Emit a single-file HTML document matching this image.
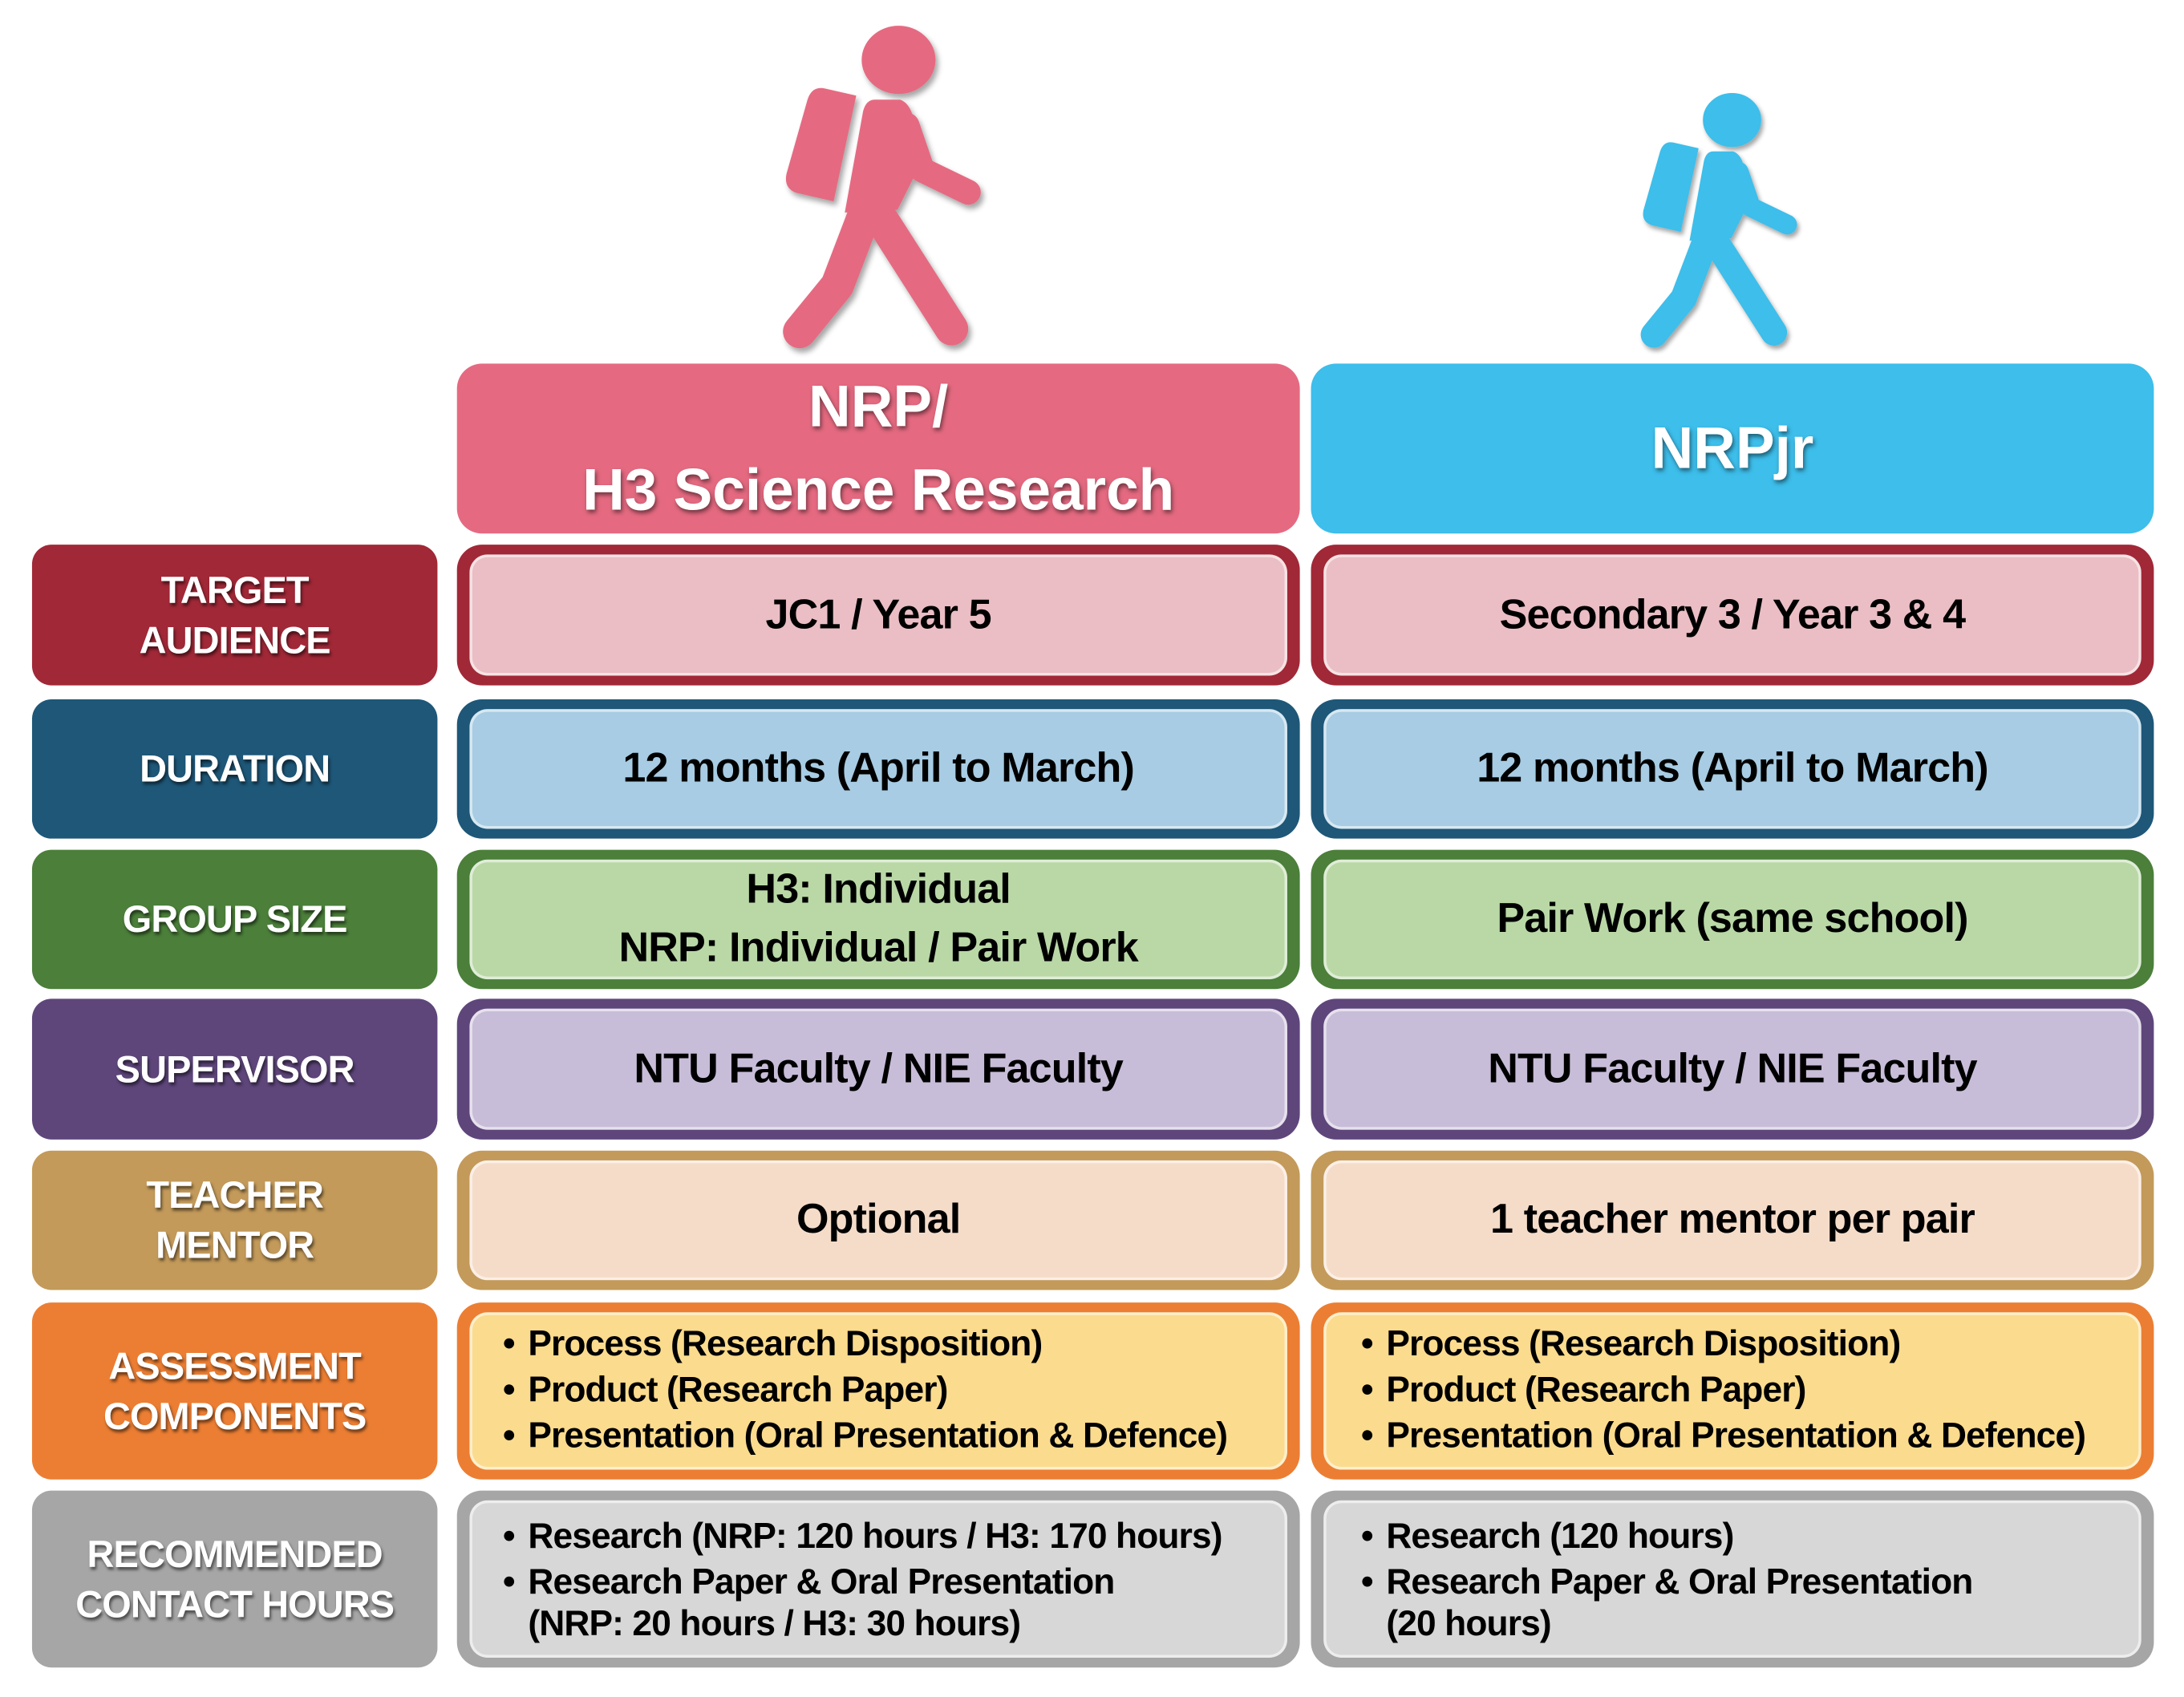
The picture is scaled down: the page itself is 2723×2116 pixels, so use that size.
<!DOCTYPE html>
<html><head><meta charset="utf-8"><style>
html,body{margin:0;padding:0;background:#fff;}
body{width:2723px;height:2114px;overflow:hidden;position:relative;}
#w{position:absolute;left:0;top:0;width:1568px;height:1218px;transform:scale(1.737);transform-origin:0 0;font-family:"Liberation Sans",sans-serif;font-weight:bold;}
.b{position:absolute;box-sizing:border-box;display:flex;align-items:center;justify-content:center;text-align:center;}
.lab{border-radius:14px;color:#fff;font-size:27px;line-height:36px;text-shadow:1px 2px 2px rgba(0,0,0,.55);letter-spacing:-0.5px;}
.out{border-radius:18px;}
.in{position:absolute;left:9px;right:9px;top:7px;bottom:7px;border-radius:13px;border:2px solid rgba(255,255,255,.55);display:flex;align-items:center;justify-content:center;text-align:center;color:#000;font-size:30px;line-height:42px;letter-spacing:-0.5px;box-sizing:border-box;}
.hd{border-radius:18px;color:#fff;font-size:42px;line-height:60px;text-shadow:1px 2px 3px rgba(0,0,0,.5);}
.ul{justify-content:flex-start;text-align:left;font-size:25.5px;letter-spacing:-0.5px;}
.ul div{line-height:33px;}
.ul span{display:inline-block;width:18px;}
.ind{padding-left:18px;line-height:27px!important;}
</style></head><body><div id="w">
<svg width="1563" height="260" style="position:absolute;left:0;top:0" >
<defs><filter id="sh" x="-20%" y="-20%" width="140%" height="140%"><feDropShadow dx="2" dy="3" stdDeviation="2" flood-color="#000" flood-opacity="0.35"/></filter>
<g id="man">
<ellipse cx="645" cy="43" rx="26" ry="24"/>
<path d="M592 64 L614 69 L598 144 L572 138 Q563 135 565 125 L580 72 Q583 62 592 64Z"/>
<path d="M628 72 L646 72 Q652 74 655 84 L660 118 L644 150 L607 152 L620 80 Q622 72 628 72Z"/>
<g fill="none" stroke-linecap="round" stroke-linejoin="round">
<path d="M651 90 L662 122 L695 138" stroke-width="18"/>
<path d="M622 150 L601 205 L574 238" stroke-width="24"/>
<path d="M628 150 L683 236" stroke-width="24"/>
</g></g></defs>
<g filter="url(#sh)" fill="#E56A81" stroke="#E56A81"><use href="#man"/></g>
<g filter="url(#sh)" fill="#3DBEEB" stroke="#3DBEEB" transform="translate(733.7,52.2) scale(0.79)"><use href="#man"/></g>
</svg>
<div class="b hd" style="left:328px;top:261px;width:605px;height:122px;background:#E56A81;">NRP/<br>H3 Science Research</div>
<div class="b hd" style="left:941px;top:261px;width:605px;height:122px;background:#3DBEEB;">NRPjr</div>

<div class="b lab" style="left:23px;top:391px;width:291px;height:101px;background:#A12837;">TARGET<br>AUDIENCE</div>
<div class="b out" style="left:328px;top:391px;width:605px;height:101px;background:#A12837;"><div class="in" style="background:#EABEC4;">JC1 / Year 5</div></div>
<div class="b out" style="left:941px;top:391px;width:605px;height:101px;background:#A12837;"><div class="in" style="background:#EABEC4;">Secondary 3 / Year 3 &amp; 4</div></div>

<div class="b lab" style="left:23px;top:502px;width:291px;height:100px;background:#1E5778;">DURATION</div>
<div class="b out" style="left:328px;top:502px;width:605px;height:100px;background:#1E5778;"><div class="in" style="background:#A7CCE3;">12 months (April to March)</div></div>
<div class="b out" style="left:941px;top:502px;width:605px;height:100px;background:#1E5778;"><div class="in" style="background:#A7CCE3;">12 months (April to March)</div></div>

<div class="b lab" style="left:23px;top:610px;width:291px;height:100px;background:#4B7F3A;">GROUP SIZE</div>
<div class="b out" style="left:328px;top:610px;width:605px;height:100px;background:#4B7F3A;"><div class="in" style="background:#B9D8A6;">H3: Individual<br>NRP: Individual / Pair Work</div></div>
<div class="b out" style="left:941px;top:610px;width:605px;height:100px;background:#4B7F3A;"><div class="in" style="background:#B9D8A6;">Pair Work (same school)</div></div>

<div class="b lab" style="left:23px;top:717px;width:291px;height:101px;background:#5E467B;">SUPERVISOR</div>
<div class="b out" style="left:328px;top:717px;width:605px;height:101px;background:#5E467B;"><div class="in" style="background:#C8BDD8;">NTU Faculty / NIE Faculty</div></div>
<div class="b out" style="left:941px;top:717px;width:605px;height:101px;background:#5E467B;"><div class="in" style="background:#C8BDD8;">NTU Faculty / NIE Faculty</div></div>

<div class="b lab" style="left:23px;top:826px;width:291px;height:100px;background:#C39A5A;">TEACHER<br>MENTOR</div>
<div class="b out" style="left:328px;top:826px;width:605px;height:100px;background:#C39A5A;"><div class="in" style="background:#F5DCC9;">Optional</div></div>
<div class="b out" style="left:941px;top:826px;width:605px;height:100px;background:#C39A5A;"><div class="in" style="background:#F5DCC9;">1 teacher mentor per pair</div></div>

<div class="b lab" style="left:23px;top:935px;width:291px;height:127px;background:#EC7E33;">ASSESSMENT<br>COMPONENTS</div>
<div class="b out" style="left:328px;top:935px;width:605px;height:127px;background:#EC7E33;"><div class="in ul" style="background:#FBDB8D;padding-left:22px;"><div><div><span>•</span>Process (Research Disposition)</div><div><span>•</span>Product (Research Paper)</div><div><span>•</span>Presentation (Oral Presentation &amp; Defence)</div></div></div></div>
<div class="b out" style="left:941px;top:935px;width:605px;height:127px;background:#EC7E33;"><div class="in ul" style="background:#FBDB8D;padding-left:25px;"><div><div><span>•</span>Process (Research Disposition)</div><div><span>•</span>Product (Research Paper)</div><div><span>•</span>Presentation (Oral Presentation &amp; Defence)</div></div></div></div>

<div class="b lab" style="left:23px;top:1070px;width:291px;height:127px;background:#A6A6A6;">RECOMMENDED<br>CONTACT HOURS</div>
<div class="b out" style="left:328px;top:1070px;width:605px;height:127px;background:#A6A6A6;"><div class="in ul" style="background:#D7D7D7;padding-left:22px;"><div><div><span>•</span>Research (NRP: 120 hours / H3: 170 hours)</div><div><span>•</span>Research Paper &amp; Oral Presentation</div><div class="ind">(NRP: 20 hours / H3: 30 hours)</div></div></div></div>
<div class="b out" style="left:941px;top:1070px;width:605px;height:127px;background:#A6A6A6;"><div class="in ul" style="background:#D7D7D7;padding-left:25px;"><div><div><span>•</span>Research (120 hours)</div><div><span>•</span>Research Paper &amp; Oral Presentation</div><div class="ind">(20 hours)</div></div></div></div>
</div></body></html>
